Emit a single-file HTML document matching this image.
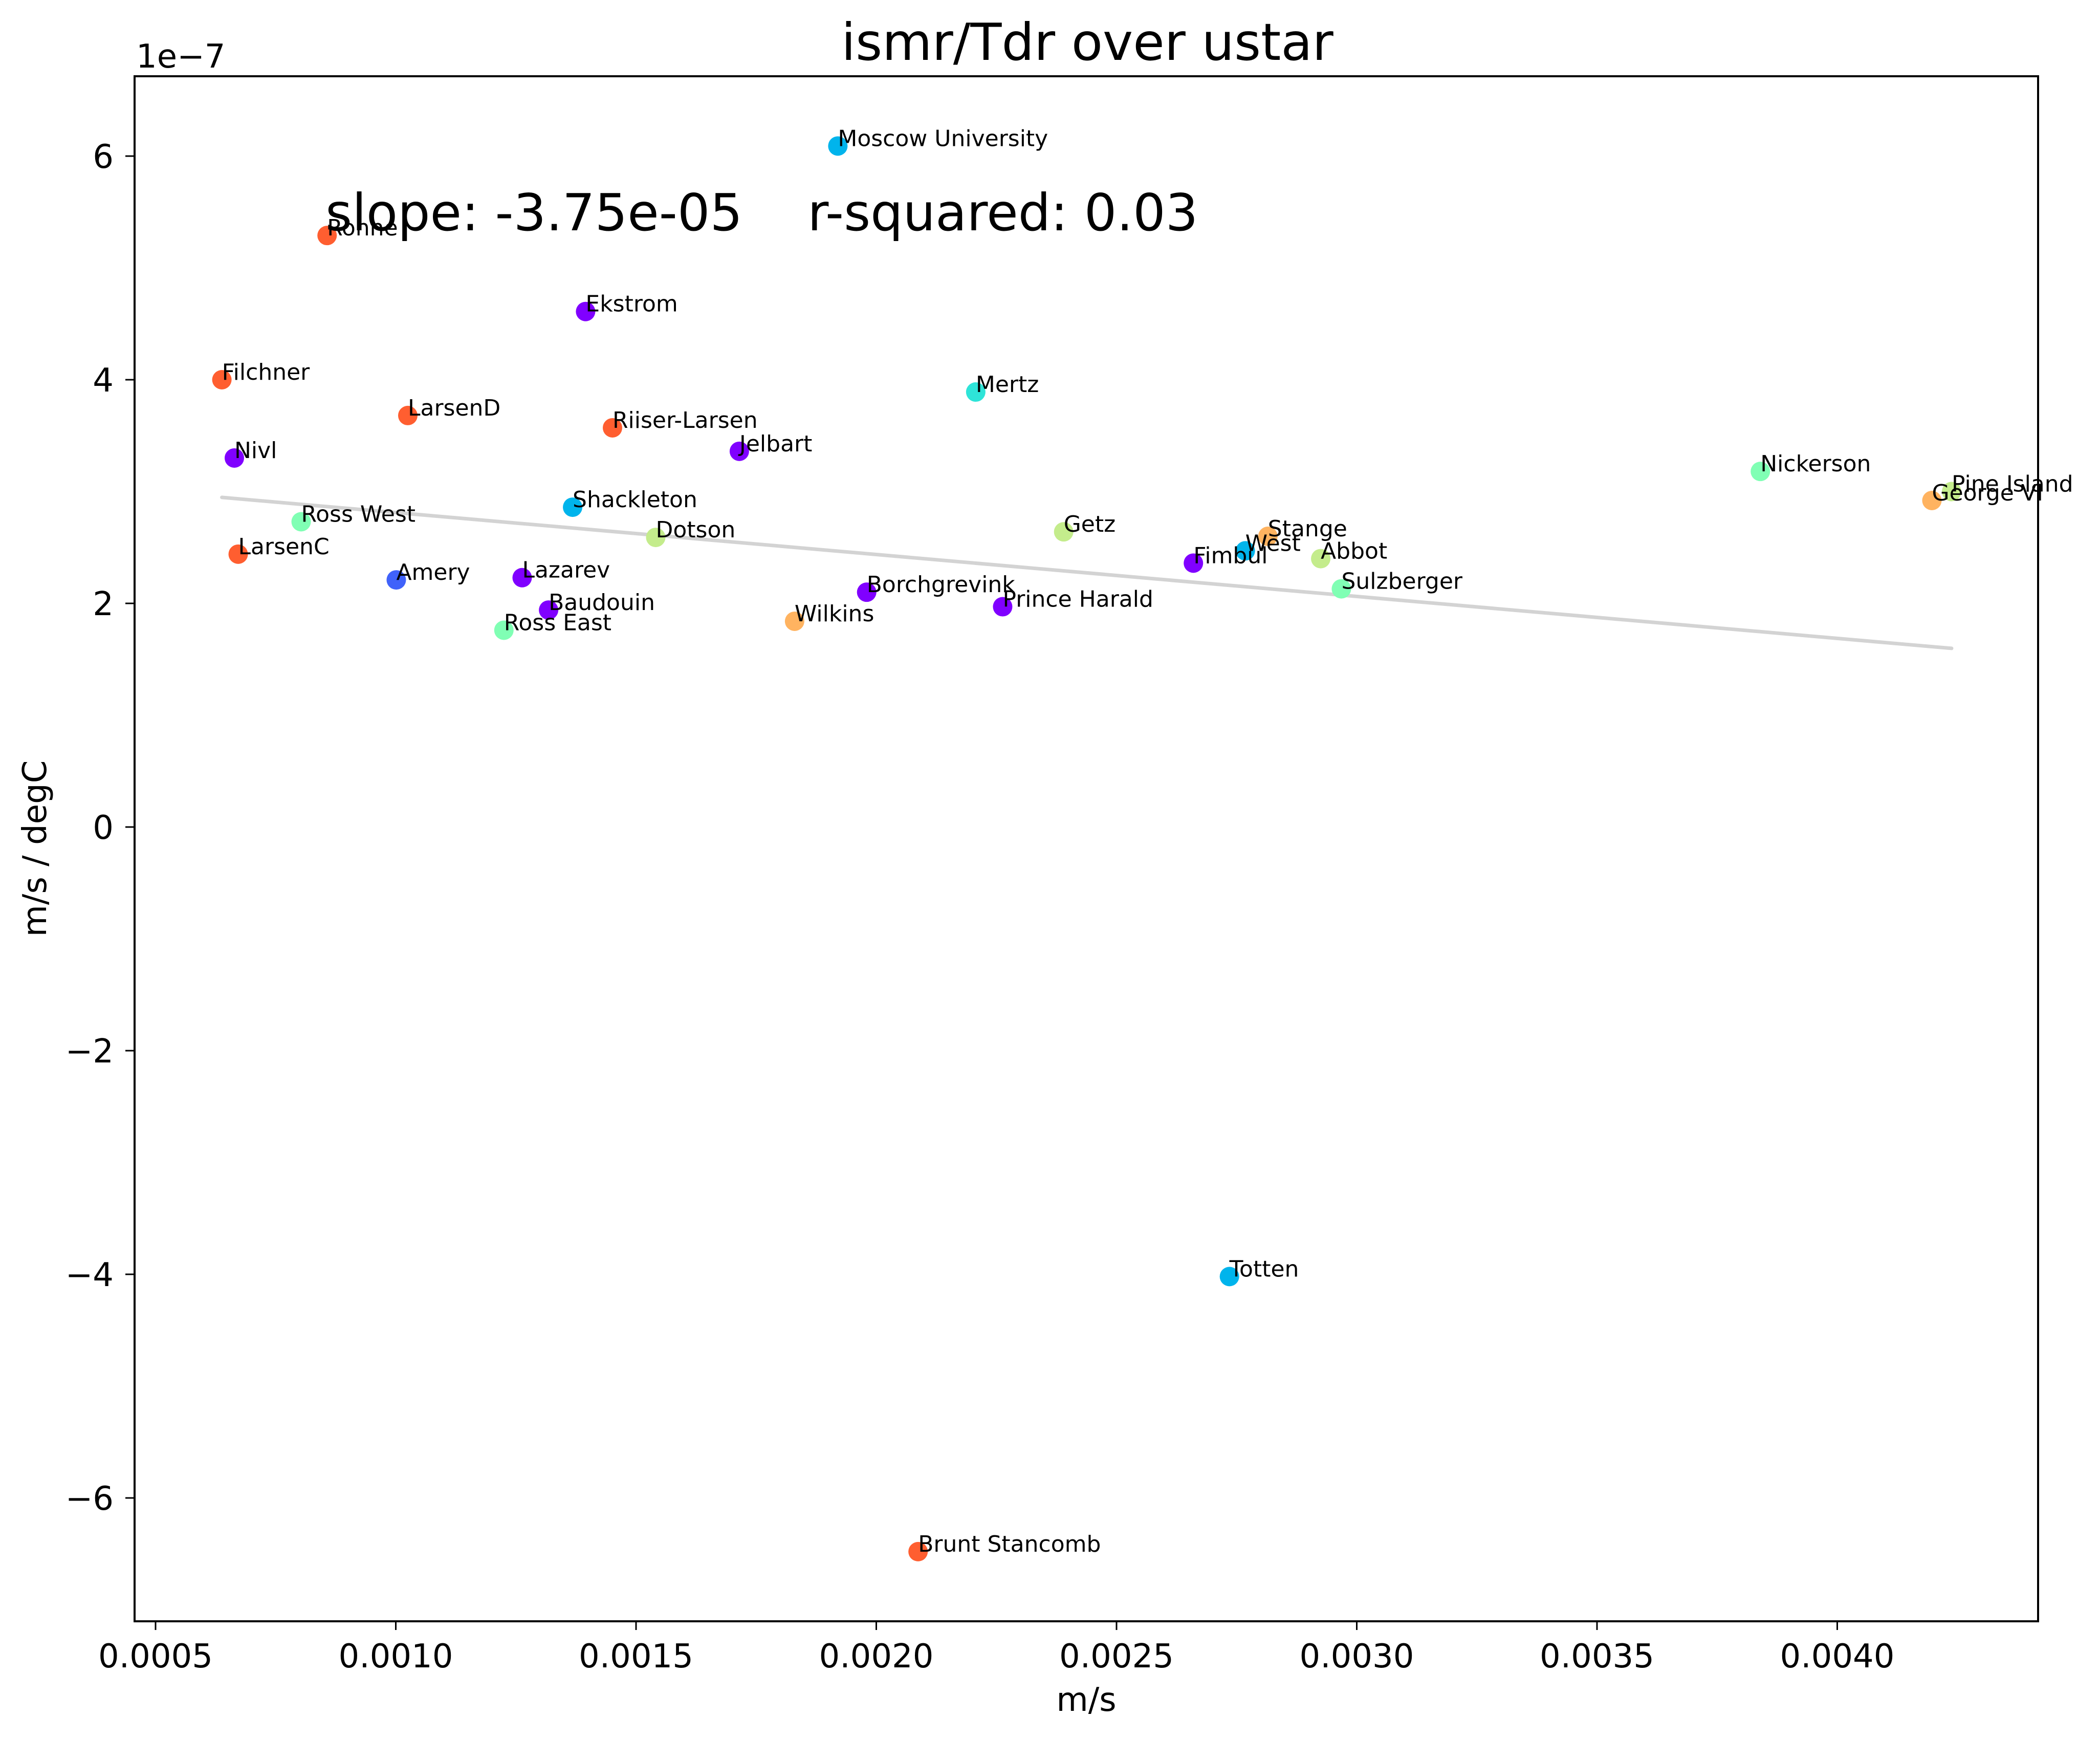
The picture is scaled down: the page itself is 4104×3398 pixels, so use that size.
<!DOCTYPE html>
<html><head><meta charset="utf-8"><style>
html,body{margin:0;padding:0;background:#fff;}
svg{display:block;font-family:"DejaVu Sans","Liberation Sans",sans-serif;}
.pre{white-space:pre;}
</style></head><body>
<svg id="chart" width="4104" height="3398" viewBox="0 0 4104 3398" xmlns="http://www.w3.org/2000/svg" xml:space="preserve">
<rect width="4104" height="3398" fill="#fff"/>
<text x="2125" y="117" font-size="100" text-anchor="middle">ismr/Tdr over ustar</text>
<text x="266" y="132" font-size="64">1e−7</text>
<text x="2123" y="3343" font-size="64" text-anchor="middle">m/s</text>
<text x="0" y="0" font-size="64" text-anchor="middle" transform="translate(90,1658) rotate(-90)">m/s / degC</text>
<g id="grid-layer"></g>
<g id="marks"></g>
<rect x="263" y="149" width="3720" height="3019" fill="none" stroke="#000" stroke-width="4"/>
<text class="pre" x="636" y="450" font-size="100">slope: -3.75e-05    r-squared: 0.03</text>
</svg>
<script>
const names = ["Moscow University","Ronne","Ekstrom","Filchner","LarsenD","Riiser-Larsen","Mertz","Jelbart","Nivl","Nickerson","George VI","Pine Island","Shackleton","Ross West","Dotson","Getz","Stange","West","Abbot","Fimbul","LarsenC","Amery","Lazarev","Sulzberger","Borchgrevink","Prince Harald","Baudouin","Wilkins","Ross East","Totten","Brunt Stancomb"];
const xValues = [0.00192,0.000857,0.001395,0.000638,0.001025,0.001451,0.002207,0.001715,0.000664,0.00384,0.004197,0.004238,0.001368,0.000803,0.001541,0.00239,0.002815,0.002768,0.002925,0.00266,0.000672,0.001001,0.001263,0.002968,0.00198,0.002263,0.001318,0.00183,0.001225,0.002735,0.002087];
const yValues = [6.09,5.29,4.61,4.0,3.68,3.57,3.89,3.36,3.30,3.18,2.92,3.0,2.86,2.73,2.59,2.64,2.60,2.47,2.40,2.36,2.44,2.21,2.23,2.13,2.10,1.97,1.94,1.84,1.76,-4.02,-6.48];
const colors = ["#00b4ec","#ff5e30","#8000ff","#ff5e30","#ff5e30","#ff5e30","#2ee4d8","#8000ff","#8000ff","#80ffb4","#ffb360","#c4ec8c","#00b4ec","#80ffb4","#c4ec8c","#c4ec8c","#ffb360","#00b4ec","#c4ec8c","#8000ff","#ff5e30","#4062fa","#8000ff","#80ffb4","#8000ff","#8000ff","#8000ff","#ffb360","#80ffb4","#00b4ec","#ff5e30"];
const xTicks = [0.0005,0.0010,0.0015,0.0020,0.0025,0.0030,0.0035,0.0040];
const xTickLabels = ["0.0005","0.0010","0.0015","0.0020","0.0025","0.0030","0.0035","0.0040"];
const yTicks = [-6,-4,-2,0,2,4,6];
const yTickLabels = ["−6","−4","−2","0","2","4","6"];
const slope = -375;
const intercept = 3.187;

const NS = "http://www.w3.org/2000/svg";
function sx(v){ return 304 + (v - 0.0005) * 939000; }
function sy(v){ return 1616 - v * 218.5; }
function mk(tag, attrs, parent){ const e=document.createElementNS(NS,tag); for(const k in attrs) e.setAttribute(k, attrs[k]); parent.appendChild(e); return e; }
const g = document.getElementById('grid-layer');
const m = document.getElementById('marks');

xTicks.forEach((t,i)=>{
  const l = mk('line',{x1:sx(t),x2:sx(t),y1:3168,y2:3185,stroke:'#000','stroke-width':3},g);
  
  
  const tx = mk('text',{x:sx(t),y:3258,'font-size':64,'text-anchor':'middle'},g);
  tx.textContent = xTickLabels[i];
  
  
});
yTicks.forEach((t,i)=>{
  const l = mk('line',{x1:245,x2:263,y1:sy(t),y2:sy(t),stroke:'#000','stroke-width':3},g);
  
  
  const tx = mk('text',{x:222,y:sy(t)+23,'font-size':64,'text-anchor':'end'},g);
  tx.textContent = yTickLabels[i];
  
  
});

const xmin = Math.min(...xValues), xmax = Math.max(...xValues);
const reg = mk('line',{x1:sx(xmin),y1:sy(intercept+slope*xmin),x2:sx(xmax),y2:sy(intercept+slope*xmax),stroke:'#d3d3d3','stroke-width':7,'stroke-linecap':'round'},m);



xValues.forEach((x,i)=>{
  const c = mk('circle',{cx:sx(x),cy:sy(yValues[i]),r:19,fill:colors[i]},m);
  
  
});
xValues.forEach((x,i)=>{
  const t = mk('text',{x:sx(x),y:sy(yValues[i]),'font-size':44},m);
  t.textContent = names[i];
  
  
});
</script>
</body></html>
